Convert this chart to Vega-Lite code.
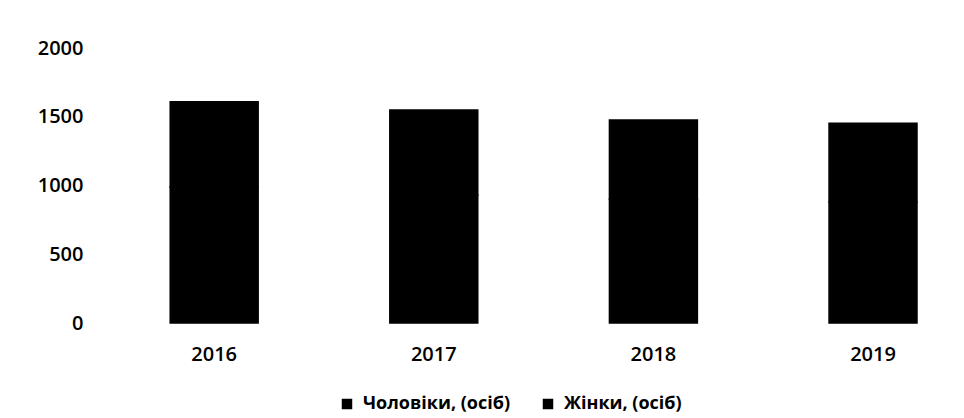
{
  "$schema": "https://vega.github.io/schema/vega-lite/v6.json",
  "width": 860,
  "height": 275,
  "autosize": {"type": "none"},
  "padding": {"left": 100, "top": 48, "right": 4, "bottom": 95},
  "background": "white",
  "data": {
    "values": [
      {"year": "2016", "sex": "Чоловіки, (осіб)", "value": 990},
      {"year": "2016", "sex": "Жінки, (осіб)", "value": 619},
      {"year": "2017", "sex": "Чоловіки, (осіб)", "value": 930},
      {"year": "2017", "sex": "Жінки, (осіб)", "value": 619},
      {"year": "2018", "sex": "Чоловіки, (осіб)", "value": 900},
      {"year": "2018", "sex": "Жінки, (осіб)", "value": 576},
      {"year": "2019", "sex": "Чоловіки, (осіб)", "value": 880},
      {"year": "2019", "sex": "Жінки, (осіб)", "value": 572}
    ]
  },
  "mark": {"type": "bar", "stroke": "#000000", "strokeWidth": 1.6},
  "encoding": {
    "x": {
      "field": "year",
      "type": "ordinal",
      "scale": {"paddingInner": 0.6, "paddingOuter": 0.258, "align": 0.62},
      "axis": {
        "title": null,
        "domain": false,
        "ticks": false,
        "labelAngle": 0,
        "labelFont": "Open Sans",
        "labelFontSize": 20,
        "labelFontWeight": 600,
        "labelColor": "#000",
        "labelPadding": 21
      }
    },
    "y": {
      "field": "value",
      "type": "quantitative",
      "aggregate": "sum",
      "stack": "zero",
      "scale": {"domain": [0, 2000], "nice": false},
      "axis": {
        "title": null,
        "values": [0, 500, 1000, 1500, 2000],
        "format": "d",
        "domain": false,
        "ticks": false,
        "grid": false,
        "labelFont": "Open Sans",
        "labelFontSize": 20,
        "labelFontWeight": 600,
        "labelColor": "#000",
        "labelPadding": 17
      }
    },
    "color": {
      "field": "sex",
      "type": "nominal",
      "scale": {"domain": ["Чоловіки, (осіб)", "Жінки, (осіб)"], "range": ["#000000", "#000000"]},
      "legend": {
        "title": null,
        "orient": "none",
        "direction": "horizontal",
        "legendX": 238,
        "legendY": 347,
        "symbolType": "square",
        "symbolSize": 110,
        "symbolStrokeWidth": 0,
        "labelFont": "Open Sans",
        "labelFontSize": 18,
        "labelFontWeight": 700,
        "labelColor": "#000",
        "labelOffset": 7,
        "columnPadding": 28
      }
    },
    "order": {"field": "sex", "sort": "descending"}
  },
  "config": {"view": {"stroke": null}}
}
